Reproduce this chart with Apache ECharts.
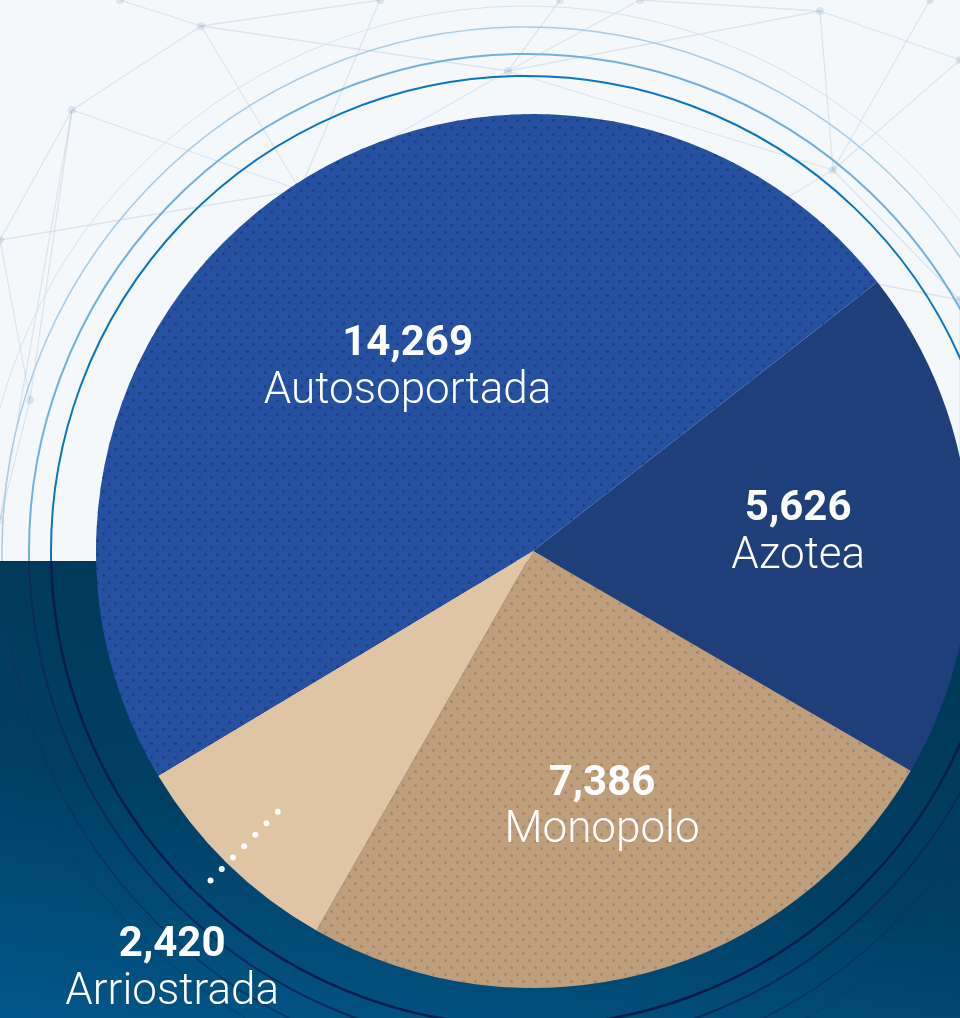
<!DOCTYPE html>
<html>
<head>
<meta charset="utf-8">
<script src="https://cdn.jsdelivr.net/npm/echarts@6/dist/echarts.min.js"></script>
<style>
  html, body { margin: 0; padding: 0; background: #f5f8fb; }
  #chart { width: 960px; height: 1018px; }
</style>
</head>
<body>
<div id="chart"></div>
<script>
// slice order runs clockwise from the upper-right boundary
const categories = ['Azotea', 'Monopolo', 'Arriostrada', 'Autosoportada'];
const values = [5626, 7386, 2420, 14269];
const sliceColors = ['#1f3f7b', '#bf9e7c', '#e0c5a5', '#2651a0'];
const dotted = ['Monopolo', 'Autosoportada'];
const outsideLabels = ['Arriostrada'];

const chart = echarts.init(document.getElementById('chart'), null, { renderer: 'canvas' });

const pieCenter = [533, 551];
const pieRadius = 437;
const startAngle = 38;
const ringCenter = [526, 551];
const splitY = 561;

// faint network decoration in the light area
const nodes = [[201, 26], [72, 110], [508, 71], [833, 170], [820, 11], [0, 240], [380, 0], [960, 60],
  [960, 300], [640, 0], [120, 0], [0, 520], [300, 190], [700, 250], [960, 480], [30, 400], [560, 0], [930, 0]];
const edges = [[0, 1], [0, 2], [0, 6], [0, 10], [1, 5], [1, 12], [1, 15], [2, 3], [2, 4], [2, 9], [2, 12],
  [3, 4], [3, 7], [3, 8], [3, 13], [4, 7], [4, 9], [5, 15], [5, 12], [8, 14], [13, 8], [15, 11], [12, 13],
  [16, 2], [17, 3], [6, 12], [1, 11], [13, 14], [0, 12]];

const graphics = [
  { type: 'rect', z: -10, silent: true, shape: { x: 0, y: 0, width: 960, height: splitY }, style: { fill: '#f5f8fb' } }
];
edges.forEach(([a, b]) => {
  graphics.push({
    type: 'line', z: -9, silent: true,
    shape: { x1: nodes[a][0], y1: nodes[a][1], x2: nodes[b][0], y2: nodes[b][1] },
    style: { stroke: 'rgba(130,160,190,0.22)', lineWidth: 1.3 }
  });
});
nodes.forEach(n => {
  graphics.push({
    type: 'circle', z: -9, silent: true, shape: { cx: n[0], cy: n[1], r: 4 },
    style: { fill: 'rgba(140,170,200,0.25)' }
  });
});
graphics.push({
  type: 'rect', z: -8, silent: true, shape: { x: 0, y: splitY, width: 960, height: 1018 - splitY },
  style: {
    fill: new echarts.graphic.LinearGradient(0.08, 0, 0, 1, [
      { offset: 0, color: '#003a5a' },
      { offset: 0.45, color: '#003f63' },
      { offset: 1, color: '#02578a' }
    ])
  }
});

const rings = [
  { r: 475, light: '#0a74bd', lightW: 2, dark: '#0a1c4c', darkW: 2.5 },
  { r: 497, light: '#72b0da', lightW: 2, dark: '#0b2a58', darkW: 2 },
  { r: 524, light: '#a9cde6', lightW: 1.5, dark: '#0b3461', darkW: 1.5 },
  { r: 545, light: '#d3e4f0', lightW: 1, dark: '#0c3b68', darkW: 1 }
];
rings.forEach(ring => {
  const a = Math.asin((splitY - ringCenter[1]) / ring.r);
  graphics.push({
    type: 'arc', z: -7, silent: true,
    shape: { cx: ringCenter[0], cy: ringCenter[1], r: ring.r, startAngle: Math.PI - a, endAngle: Math.PI * 2 + a, clockwise: true },
    style: { stroke: ring.light, lineWidth: ring.lightW, fill: null }
  });
  graphics.push({
    type: 'arc', z: -7, silent: true,
    shape: { cx: ringCenter[0], cy: ringCenter[1], r: ring.r, startAngle: a, endAngle: Math.PI - a, clockwise: true },
    style: { stroke: ring.dark, lineWidth: ring.darkW, fill: null }
  });
});

function decalFor(name) {
  if (dotted.indexOf(name) < 0) return null;
  return {
    symbol: 'circle',
    symbolSize: 1,
    color: name === 'Monopolo' ? 'rgba(150,118,90,0.6)' : 'rgba(25,52,125,0.65)',
    dashArrayX: [[3, 9], [0, 6, 3, 3]],
    dashArrayY: [3, 3.2]
  };
}

const labelFormatter = p => '{v|' + p.value.toLocaleString('en-US') + '}\n{n|' + p.name + '}';
const labelRich = {
  v: { fontFamily: 'Roboto', fontSize: 42, fontWeight: 700, color: '#ffffff', lineHeight: 47, align: 'center' },
  n: { fontFamily: 'Roboto', fontSize: 44, fontWeight: 300, color: '#ffffff', lineHeight: 47, align: 'center' }
};

// main pie: coloured slices and the labels that sit inside them
const pieData = categories.map((name, i) => {
  const item = { name: name, value: values[i], itemStyle: { color: sliceColors[i] } };
  const decal = decalFor(name);
  if (decal) item.itemStyle.decal = decal;
  if (outsideLabels.indexOf(name) >= 0) item.label = { show: false };
  return item;
});

// overlay pie (same values, invisible slices) carrying the outside label so its dotted leader draws on top
const overlayData = categories.map((name, i) => ({
  name: name,
  value: values[i],
  label: { show: outsideLabels.indexOf(name) >= 0 },
  labelLine: { show: outsideLabels.indexOf(name) >= 0 }
}));

chart.setOption({
  animation: false,
  textStyle: { fontFamily: 'Roboto' },
  graphic: { elements: graphics },
  series: [{
    type: 'pie',
    center: pieCenter,
    radius: pieRadius,
    startAngle: startAngle,
    clockwise: true,
    silent: true,
    data: pieData,
    label: {
      show: true,
      position: 'inside',
      formatter: labelFormatter,
      rich: labelRich
    },
    labelLine: { show: false },
    labelLayout: function (params) {
      // inner labels sit a bit further out than the mid-radius
      const r = params.labelRect;
      const lx = r.x + r.width / 2;
      const ly = r.y + r.height / 2;
      const k = categories[params.dataIndex] === 'Autosoportada' ? 1.0 : 1.2;
      return { dx: (lx - pieCenter[0]) * (k - 1), dy: (ly - pieCenter[1]) * (k - 1) };
    }
  }, {
    type: 'pie',
    z: 5,
    center: pieCenter,
    radius: pieRadius,
    startAngle: startAngle,
    clockwise: true,
    silent: true,
    data: overlayData,
    itemStyle: { color: 'rgba(0,0,0,0)', borderWidth: 0 },
    label: {
      position: 'outside',
      overflow: 'none',
      alignTo: 'none',
      formatter: labelFormatter,
      rich: labelRich
    },
    labelLine: {
      length: 30,
      length2: 0,
      lineStyle: { color: '#ffffff', width: 6, type: [0, 16], cap: 'round' }
    },
    labelLayout: function (params) {
      // dotted leader runs radially from inside the slice past its edge, label sits under its end
      const pts = params.labelLinePoints;
      if (!pts) return {};
      const p0 = pts[0];
      const dx = pts[1][0] - p0[0];
      const dy = pts[1][1] - p0[1];
      const len = Math.sqrt(dx * dx + dy * dy) || 1;
      const ux = dx / len;
      const uy = dy / len;
      const start = [p0[0] - ux * 72, p0[1] - uy * 72];
      const end = [p0[0] + ux * 36, p0[1] + uy * 36];
      return {
        x: end[0] - 30,
        y: end[1] + 33,
        align: 'center',
        verticalAlign: 'top',
        labelLinePoints: [start, end]
      };
    }
  }]
});
</script>
</body>
</html>
